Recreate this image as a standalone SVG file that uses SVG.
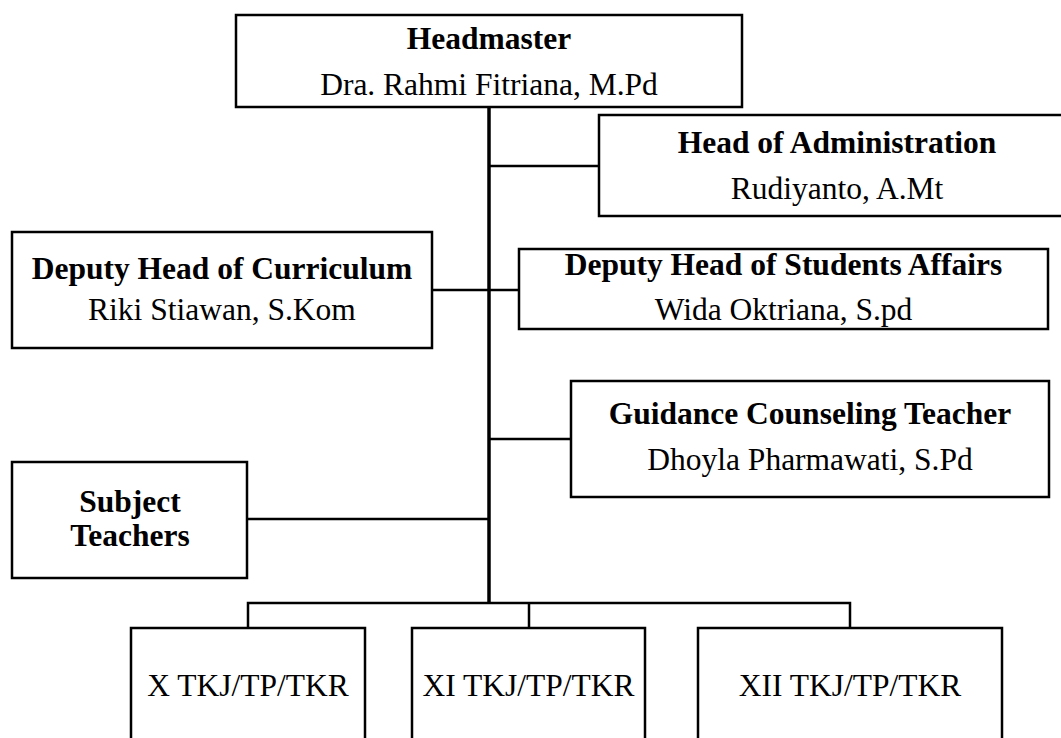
<svg xmlns="http://www.w3.org/2000/svg" width="1061" height="738" viewBox="0 0 1061 738">
<style>
.box{fill:#fff;stroke:#000;stroke-width:2.5}
.t{font-family:"Liberation Serif","Times New Roman",serif;font-size:31.5px;fill:#000;text-anchor:middle}
.b{font-weight:bold}
.c{stroke:#000;stroke-width:2.5;fill:none}
.trunk{stroke:#000;stroke-width:3.5;fill:none}
</style>
<rect width="1061" height="738" fill="#fff"/>
<g id="connectors">
<line class="trunk" x1="489" y1="107" x2="489" y2="604"/>
<line class="c" x1="489" y1="166" x2="599" y2="166"/>
<line class="c" x1="432" y1="290" x2="519" y2="290"/>
<line class="c" x1="489" y1="439" x2="571" y2="439"/>
<line class="c" x1="247" y1="519" x2="489" y2="519"/>
<polyline class="c" points="248,628 248,603 850,603 850,628"/>
<line class="c" x1="529" y1="603" x2="529" y2="628"/>
</g>
<g id="headmaster">
<rect class="box" x="236" y="15" width="506" height="92"/>
<text class="t b" x="489" y="49">Headmaster</text>
<text class="t" x="489" y="95">Dra. Rahmi Fitriana, M.Pd</text>
</g>
<g id="admin">
<rect class="box" x="599" y="115" width="480" height="101"/>
<text class="t b" x="837" y="153">Head of Administration</text>
<text class="t" x="837" y="199">Rudiyanto, A.Mt</text>
</g>
<g id="curriculum">
<rect class="box" x="12" y="232" width="420" height="116"/>
<text class="t b" x="222" y="279">Deputy Head of Curriculum</text>
<text class="t" x="222" y="320">Riki Stiawan, S.Kom</text>
</g>
<g id="students">
<rect class="box" x="519" y="249" width="529" height="80"/>
<text class="t b" x="783.5" y="275">Deputy Head of Students Affairs</text>
<text class="t" x="783.5" y="320">Wida Oktriana, S.pd</text>
</g>
<g id="guidance">
<rect class="box" x="571" y="381" width="478" height="116"/>
<text class="t b" x="810" y="424">Guidance Counseling Teacher</text>
<text class="t" x="810" y="470">Dhoyla Pharmawati, S.Pd</text>
</g>
<g id="subject">
<rect class="box" x="12" y="462" width="235" height="116"/>
<text class="t b" x="130" y="512">Subject</text>
<text class="t b" x="130" y="546">Teachers</text>
</g>
<g id="class10">
<rect class="box" x="131" y="628" width="234" height="130"/>
<text class="t" x="248" y="696">X TKJ/TP/TKR</text>
</g>
<g id="class11">
<rect class="box" x="412" y="628" width="233" height="130"/>
<text class="t" x="528.5" y="696">XI TKJ/TP/TKR</text>
</g>
<g id="class12">
<rect class="box" x="698" y="628" width="304" height="130"/>
<text class="t" x="850" y="696">XII TKJ/TP/TKR</text>
</g>
</svg>
